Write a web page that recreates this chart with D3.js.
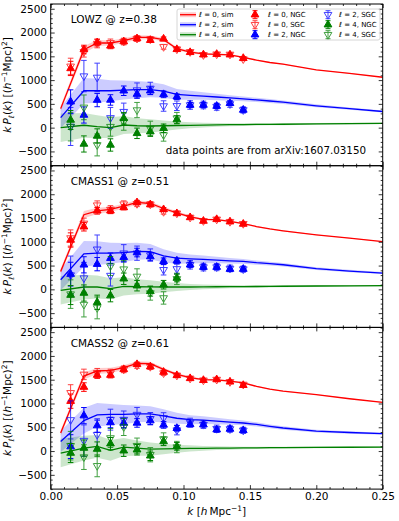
<!DOCTYPE html>
<html>
<head>
<meta charset="utf-8">
<script src="https://cdn.jsdelivr.net/npm/d3@7"></script>
<style>
  body { margin: 0; background: #fff; }
  svg { font-family: "DejaVu Sans", sans-serif; }
</style>
</head>
<body>
<script>

  // simulation curves (k grid shared by all panels)
  var simK = [0.0075, 0.025, 0.035, 0.045, 0.055, 0.065, 0.075, 0.085, 0.095, 0.105, 0.115, 0.125, 0.135, 0.145, 0.155, 0.165, 0.175, 0.2, 0.225, 0.25];

  var lowzSim0 = [400, 1640, 1780, 1780, 1830, 1900, 1900, 1850, 1660, 1590, 1550, 1540, 1530, 1480, 1420, 1370, 1335, 1215, 1140, 1060];
  var lowzSim2 = [210, 776, 776, 776, 790, 800, 800, 770, 700, 680, 665, 645, 625, 605, 585, 560, 535, 460, 400, 340];
  var lowzSim4 = [0, 50, 20, 0, 56, 40, 35, 40, 45, 50, 55, 60, 62, 65, 68, 70, 72, 80, 85, 92];

  var cmass1Sim0 = [376, 1570, 1652, 1680, 1750, 1830, 1805, 1700, 1610, 1526, 1470, 1465, 1430, 1380, 1320, 1270, 1230, 1145, 1075, 1004];
  var cmass1Sim2 = [202, 746, 760, 760, 774, 800, 795, 704, 655, 640, 630, 615, 600, 590, 560, 540, 517, 435, 385, 343];
  var cmass1Sim4 = [-21, 49, 49, 14, 63, 55, 50, 49, 49, 50, 52, 55, 57, 58, 60, 62, 65, 70, 75, 77];

  var cmass2Sim0 = [380, 1577, 1683, 1697, 1753, 1845, 1838, 1718, 1612, 1542, 1500, 1495, 1470, 1434, 1360, 1300, 1258, 1188, 1100, 1025];
  var cmass2Sim2 = [200, 640, 760, 770, 770, 780, 780, 740, 690, 660, 650, 630, 610, 590, 560, 520, 485, 420, 390, 365];
  var cmass2Sim4 = [-42, 63, 99, 14, 84, 63, 42, 45, 50, 55, 58, 60, 62, 65, 68, 70, 72, 78, 80, 84];

  // half widths of the shaded sim bands
  var band0 = [60, 75, 65, 55, 50, 45, 40, 35, 30, 26, 22, 20, 18, 16, 14, 12, 11, 9, 8, 7];
  var band2 = [220, 270, 250, 220, 200, 180, 160, 140, 115, 95, 80, 68, 58, 50, 45, 40, 36, 30, 26, 22];
  var band4 = [300, 260, 240, 220, 190, 160, 140, 110, 85, 65, 50, 40, 32, 28, 25, 22, 20, 18, 16, 15];

  // data points (arXiv:1607.03150)
  var dataK = [0.015, 0.025, 0.035, 0.045, 0.055, 0.065, 0.075, 0.085, 0.095, 0.105, 0.115, 0.125, 0.135, 0.145];

  var lowzNgc0 = [1245, 1643, 1790, 1720, 1811, 1874, 1839, 1867, 1647, 1584, 1535, 1545, 1534, 1460];
  var lowzSgc0 = [1290, 1594, 1769, 1783, 1811, 1874, 1860, 1700, 1650, 1594, 1530, 1545, 1540, 1443];
  var lowzNgc2 = [545, 266, 580, 582, 776, 706, 776, 700, 650, 476, 477, 454, 512, 372];
  var lowzSgc2 = [25, 1084, 1056, 205, 336, 790, 825, 455, 460, 476, 477, 441, 498, 372];
  var lowzNgc4 = [161, -343, -175, -364, 196, -119, -84, -14, 170];
  var lowzSgc4 = [21, 427, -364, 21, 126, 370, -14, -154, 200];

  var cmass1Ngc0 = [1038, 1317, 1652, 1652, 1722, 1826, 1784, 1680, 1596, 1512, 1437, 1472, 1423, 1374];
  var cmass1Sgc0 = [1080, 1387, 1770, 1680, 1791, 1800, 1790, 1632, 1600, 1512, 1440, 1472, 1423, 1380];
  var cmass1Ngc2 = [320, 516, 530, 655, 676, 774, 690, 590, 600, 517, 468, 468, 426, 426];
  var cmass1Sgc2 = [300, 237, 843, 290, 760, 760, 720, 412, 430, 517, 468, 468, 440, 426];
  var cmass1Ngc4 = [-120, -77, -272, -132, 223, 77, -42, 98, 238];
  var cmass1Sgc4 = [-100, -320, -390, 490, 425, 272, -77, -181, 220];

  var cmass2Ngc0 = [1049, 1345, 1598, 1598, 1718, 1823, 1774, 1661, 1591, 1528, 1489, 1504, 1456, 1384];
  var cmass2Sgc0 = [1225, 1612, 1647, 1640, 1718, 1800, 1774, 1640, 1591, 1528, 1489, 1504, 1456, 1400];
  var cmass2Ngc2 = [94, 745, 535, 600, 591, 591, 640, 550, 480, 560, 556, 450, 464, 435];
  var cmass2Sgc2 = [655, 220, 345, 660, 662, 767, 680, 696, 440, 600, 556, 470, 464, 435];
  var cmass2Ngc4 = [-42, 63, 42, 155, 7, 28, -99, 204, 99];
  var cmass2Sgc4 = [113, -127, -310, 275, 507, 113, -77, 253, 84];

  // error bars (same for all samples)
  var errNgc0 = [150, 90, 70, 60, 50, 45, 45, 40, 35, 35, 30, 30, 30, 30];
  var errSgc0 = [170, 110, 90, 80, 70, 60, 55, 50, 45, 40, 40, 35, 35, 35];
  var errNgc2 = [250, 170, 140, 110, 100, 90, 80, 70, 60, 55, 50, 50, 45, 45];
  var errSgc2 = [400, 330, 300, 220, 180, 150, 130, 110, 100, 90, 80, 75, 70, 65];
  var errNgc4 = [200, 170, 150, 130, 120, 110, 100, 90, 80];
  var errSgc4 = [300, 260, 230, 200, 180, 160, 150, 130, 120];

  var panelTitles = ['LOWZ @ z=0.38', 'CMASS1 @ z=0.51', 'CMASS2 @ z=0.61'];
  var yTicks = [-500, 0, 500, 1000, 1500, 2000, 2500];
  var xTicks = [0, 0.05, 0.10, 0.15, 0.20, 0.25];

  var colors = ['#ff0000', '#0000ff', '#008000'];

  var panels = [
    { sim: [lowzSim0, lowzSim2, lowzSim4], ngc: [lowzNgc0, lowzNgc2, lowzNgc4], sgc: [lowzSgc0, lowzSgc2, lowzSgc4] },
    { sim: [cmass1Sim0, cmass1Sim2, cmass1Sim4], ngc: [cmass1Ngc0, cmass1Ngc2, cmass1Ngc4], sgc: [cmass1Sgc0, cmass1Sgc2, cmass1Sgc4] },
    { sim: [cmass2Sim0, cmass2Sim2, cmass2Sim4], ngc: [cmass2Ngc0, cmass2Ngc2, cmass2Ngc4], sgc: [cmass2Sgc0, cmass2Sgc2, cmass2Sgc4] }
  ];
  var bands = [band0, band2, band4];
  var errNgc = [errNgc0, errNgc2, errNgc4];
  var errSgc = [errSgc0, errSgc2, errSgc4];

  var width = 399, height = 521,
    left = 50.7, right = 382.7, top0 = 4, panelH = 161.7;

  var svg = d3.select('body').append('svg')
    .attr('width', width)
    .attr('height', height);

  var x = d3.scaleLinear().domain([0, 0.25]).range([left, right]);

  var fmtY = function (d) { return d < 0 ? '\u2212' + Math.abs(d) : String(d); };
  var triUp = d3.symbol().type(d3.symbolTriangle).size(26)();

  panels.forEach(function (p, pi) {
    var top = top0 + pi * panelH;
    var y = d3.scaleLinear().domain([-800, 2600]).range([top + panelH, top]);
    var g = svg.append('g');

    g.append('clipPath').attr('id', 'clip' + pi)
      .append('rect')
      .attr('x', left).attr('y', top)
      .attr('width', right - left).attr('height', panelH);

    var plot = g.append('g').attr('clip-path', 'url(#clip' + pi + ')');

    // bands and sim lines
    p.sim.forEach(function (vals, li) {
      var area = d3.area()
        .x(function (d, i) { return x(simK[i]); })
        .y0(function (d, i) { return y(d - bands[li][i]); })
        .y1(function (d, i) { return y(d + bands[li][i]); });
      plot.append('path')
        .attr('d', area(vals))
        .attr('fill', colors[li])
        .attr('fill-opacity', 0.2);
    });
    p.sim.forEach(function (vals, li) {
      var line = d3.line()
        .x(function (d, i) { return x(simK[i]); })
        .y(function (d) { return y(d); });
      plot.append('path')
        .attr('d', line(vals))
        .attr('fill', 'none')
        .attr('stroke', colors[li])
        .attr('stroke-width', 1.3);
    });

    // data points
    function drawPoints( vals, errs, color, isSgc ) {
      var pts = plot.append('g').attr('opacity', isSgc ? 0.75 : 1);
      vals.forEach(function (v, i) {
        var px = x(dataK[i]), y0 = y(v - errs[i]), y1 = y(v + errs[i]);
        pts.append('line').attr('x1', px).attr('x2', px).attr('y1', y0).attr('y2', y1)
          .attr('stroke', color).attr('stroke-width', 1);
        [y0, y1].forEach(function (yy) {
          pts.append('line').attr('x1', px - 2.8).attr('x2', px + 2.8).attr('y1', yy).attr('y2', yy)
            .attr('stroke', color).attr('stroke-width', 1);
        });
        pts.append('path')
          .attr('d', triUp)
          .attr('transform', 'translate(' + px + ',' + y(v) + ')' + (isSgc ? ' rotate(180)' : ''))
          .attr('fill', isSgc ? 'none' : color)
          .attr('stroke', color)
          .attr('stroke-width', 1);
      });
    }
    [0, 1, 2].forEach(function (li) {
      drawPoints(p.sgc[li], errSgc[li], colors[li], true);
      drawPoints(p.ngc[li], errNgc[li], colors[li], false);
    });

    // axes with inward ticks
    var minorY = d3.range(-800, 2601, 100).filter(function (d) { return d % 500 !== 0; });
    var minorX = d3.range(0, 26).map(function (d) { return d / 100; }).filter(function (d, i) { return i % 5 !== 0; });

    g.append('g').attr('transform', 'translate(' + left + ',0)')
      .call(d3.axisLeft(y).tickValues(yTicks).tickFormat(fmtY).tickSizeInner(-4).tickSizeOuter(0).tickPadding(3.7));
    g.append('g').attr('transform', 'translate(' + left + ',0)')
      .call(d3.axisLeft(y).tickValues(minorY).tickFormat('').tickSizeInner(-2).tickSizeOuter(0));
    g.append('g').attr('transform', 'translate(' + right + ',0)')
      .call(d3.axisRight(y).tickValues(yTicks).tickFormat('').tickSizeInner(-4).tickSizeOuter(0));
    g.append('g').attr('transform', 'translate(' + right + ',0)')
      .call(d3.axisRight(y).tickValues(minorY).tickFormat('').tickSizeInner(-2).tickSizeOuter(0));

    g.append('g').attr('transform', 'translate(0,' + (top + panelH) + ')')
      .call(d3.axisBottom(x).tickValues(xTicks).tickFormat(pi === 2 ? d3.format('.2f') : '').tickSizeInner(-4).tickSizeOuter(0).tickPadding(3.7));
    g.append('g').attr('transform', 'translate(0,' + (top + panelH) + ')')
      .call(d3.axisBottom(x).tickValues(minorX).tickFormat('').tickSizeInner(-2).tickSizeOuter(0));
    g.append('g').attr('transform', 'translate(0,' + top + ')')
      .call(d3.axisTop(x).tickValues(xTicks).tickFormat('').tickSizeInner(-4).tickSizeOuter(0));
    g.append('g').attr('transform', 'translate(0,' + top + ')')
      .call(d3.axisTop(x).tickValues(minorX).tickFormat('').tickSizeInner(-2).tickSizeOuter(0));

    g.selectAll('.domain').remove();
    g.selectAll('.tick line').attr('stroke', '#000').attr('stroke-width', 0.8);
    g.selectAll('.tick text').attr('font-size', 10.5).attr('font-family', '"DejaVu Sans", sans-serif').attr('fill', '#000');

    g.append('rect')
      .attr('x', left).attr('y', top)
      .attr('width', right - left).attr('height', panelH)
      .attr('fill', 'none').attr('stroke', '#000').attr('stroke-width', 1);

    // panel title
    g.append('text')
      .attr('x', 70.7).attr('y', top + 19.3)
      .attr('font-size', 10.5)
      .text(panelTitles[pi]);

    // y label
    var yl = g.append('text')
      .attr('transform', 'translate(11,' + (top + panelH / 2) + ') rotate(-90)')
      .attr('text-anchor', 'middle')
      .attr('font-size', 10.5);
    yl.append('tspan').attr('font-style', 'italic').text('k\u2009P');
    yl.append('tspan').attr('font-style', 'italic').attr('font-size', 7.5).attr('dy', 2.5).text('\u2113');
    yl.append('tspan').attr('dy', -2.5).text('(');
    yl.append('tspan').attr('font-style', 'italic').text('k');
    yl.append('tspan').text(') [(');
    yl.append('tspan').attr('font-style', 'italic').text('h');
    yl.append('tspan').attr('font-size', 7.5).attr('dy', -4).text('\u22121');
    yl.append('tspan').attr('dy', 4).text('Mpc)');
    yl.append('tspan').attr('font-size', 7.5).attr('dy', -4).text('2');
    yl.append('tspan').attr('dy', 4).text(']');
  });

  // note in the first panel
  svg.append('text')
    .attr('x', 366).attr('y', 153.5)
    .attr('text-anchor', 'end')
    .attr('font-size', 10.3)
    .text('data points are from arXiv:1607.03150');

  // x label
  var xl = svg.append('text')
    .attr('x', (left + right) / 2).attr('y', 514.5)
    .attr('text-anchor', 'middle')
    .attr('font-size', 10.5);
  xl.append('tspan').attr('font-style', 'italic').text('k');
  xl.append('tspan').text(' [');
  xl.append('tspan').attr('font-style', 'italic').text('h');
  xl.append('tspan').text('\u2009Mpc');
  xl.append('tspan').attr('font-size', 7.5).attr('dy', -4).text('\u22121');
  xl.append('tspan').attr('dy', 4).text(']');

  // legend
  var legendLabels = [
    ['0', 'sim', 0, 'line'], ['2', 'sim', 1, 'line'], ['4', 'sim', 2, 'line'],
    ['0', 'NGC', 0, 'ngc'], ['0', 'SGC', 0, 'sgc'], ['2', 'NGC', 1, 'ngc'],
    ['2', 'SGC', 1, 'sgc'], ['4', 'NGC', 2, 'ngc'], ['4', 'SGC', 2, 'sgc']
  ];
  var legend = svg.append('g');
  legend.append('rect')
    .attr('x', 177).attr('y', 9).attr('width', 203).attr('height', 31).attr('rx', 2)
    .attr('fill', '#fff').attr('fill-opacity', 0.8)
    .attr('stroke', '#ccc').attr('stroke-width', 0.8);

  var colHandle = [188, 255, 328], colText = [199, 268, 339];
  legendLabels.forEach(function (d, i) {
    var col = Math.floor(i / 3), row = i % 3;
    var cy = 14.7 + row * 10, color = colors[d[2]];
    var hx = colHandle[col];
    if (d[3] === 'line') {
      legend.append('rect').attr('x', 180).attr('y', cy - 2.5).attr('width', 16).attr('height', 5)
        .attr('fill', color).attr('fill-opacity', 0.2);
      legend.append('line').attr('x1', 180).attr('x2', 196).attr('y1', cy).attr('y2', cy)
        .attr('stroke', color).attr('stroke-width', 1.3);
    } else {
      var sg = d[3] === 'sgc';
      var lg = legend.append('g').attr('opacity', sg ? 0.75 : 1);
      lg.append('line').attr('x1', hx).attr('x2', hx).attr('y1', cy - 4).attr('y2', cy + 4)
        .attr('stroke', color).attr('stroke-width', 1);
      [cy - 4, cy + 4].forEach(function (yy) {
        lg.append('line').attr('x1', hx - 2.5).attr('x2', hx + 2.5).attr('y1', yy).attr('y2', yy)
          .attr('stroke', color).attr('stroke-width', 1);
      });
      lg.append('path').attr('d', triUp)
        .attr('transform', 'translate(' + hx + ',' + cy + ')' + (sg ? ' rotate(180)' : ''))
        .attr('fill', sg ? 'none' : color).attr('stroke', color).attr('stroke-width', 1);
    }
    var t = legend.append('text')
      .attr('x', colText[col]).attr('y', cy + 2.5)
      .attr('font-size', 7);
    t.append('tspan').attr('font-style', 'italic').text('\u2113');
    t.append('tspan').text(' = ' + d[0] + ', ' + d[1]);
  });

</script>
</body>
</html>
